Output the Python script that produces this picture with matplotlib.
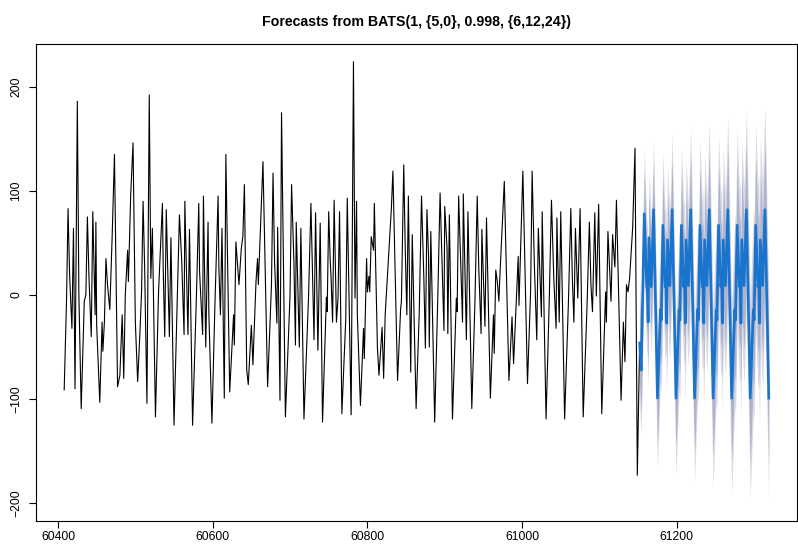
import numpy as np
import matplotlib
matplotlib.use("Agg")
import matplotlib.pyplot as plt

plt.rcParams['font.family'] = ['Liberation Sans', 'DejaVu Sans']

hist_t = [60408, 60411, 60413, 60415, 60418, 60420, 60422, 60425, 60427, 60430,
          60434, 60436, 60438, 60440, 60443, 60445, 60448, 60449, 60450, 60454,
          60457, 60458, 60460, 60462, 60464, 60467, 60470, 60473, 60477, 60480,
          60483, 60485, 60487, 60490, 60491, 60494, 60497, 60500, 60503, 60506,
          60508, 60510, 60512, 60515, 60518, 60520, 60522, 60526, 60530, 60535,
          60536, 60538, 60540, 60544, 60546, 60550, 60557, 60560, 60563, 60564,
          60568, 60570, 60574, 60579, 60582, 60583, 60587, 60588, 60591, 60594,
          60595, 60599, 60603, 60607, 60608, 60610, 60612, 60615, 60617, 60620,
          60622, 60627, 60628, 60630, 60634, 60637, 60639, 60641, 60644, 60646,
          60650, 60652, 60656, 60658, 60659, 60665, 60671, 60676, 60678, 60680,
          60683, 60684, 60687, 60689, 60694, 60700, 60702, 60705, 60707, 60708,
          60712, 60714, 60718, 60724, 60727, 60731, 60733, 60736, 60739, 60742,
          60747, 60748, 60750, 60752, 60753, 60755, 60757, 60760, 60762, 60764,
          60767, 60772, 60774, 60779, 60782, 60784, 60786, 60787, 60791, 60795,
          60796, 60799, 60800, 60802, 60803, 60805, 60808, 60809, 60813, 60815,
          60819, 60821, 60823, 60827, 60831, 60833, 60839, 60843, 60844, 60847,
          60849, 60851, 60853, 60856, 60858, 60860, 60863, 60867, 60870, 60873,
          60875, 60877, 60879, 60880, 60882, 60887, 60891, 60894, 60897, 60899,
          60900, 60903, 60904, 60906, 60910, 60915, 60916, 60918, 60921, 60923,
          60924, 60928, 60930, 60935, 60939, 60942, 60944, 60947, 60948, 60952,
          60954, 60959, 60963, 60964, 60966, 60968, 60970, 60971, 60977, 60983,
          60987, 60989, 60995, 60996, 61001, 61007, 61011, 61013, 61016, 61019,
          61021, 61025, 61026, 61031, 61035, 61038, 61041, 61044, 61045, 61048,
          61050, 61055, 61060, 61063, 61065, 61067, 61069, 61072, 61075, 61079,
          61084, 61087, 61089, 61091, 61094, 61096, 61099, 61103, 61108, 61109,
          61111, 61114, 61115, 61117, 61120, 61122, 61128, 61131, 61133, 61135,
          61137, 61139, 61143, 61146, 61149]
hist_v = [-91, -6, 83, 19, -32, 64, -90, 186, 0, -109,
          -6, 0, 75, 18, -40, 80, -19, 70, -29, -103,
          -26, -54, -26, 35, 10, -14, 56, 135, -88, -77,
          -19, -80, 0, 43, 13, 96, 146, -26, -83, -35,
          2, 90, 27, -104, 192, 16, 64, -117, 3, 88,
          26, -40, 82, -40, 55, -125, 77, 32, -38, 90,
          -38, 63, -125, 0, 88, 23, -38, 95, -50, 70,
          -16, -123, -6, 95, 26, -19, 64, -99, 135, -3,
          -93, -19, -48, 51, 10, 45, 56, 106, -72, -86,
          -29, -67, 13, 35, 10, 128, -88, 10, 117, 32,
          -27, 65, -101, 175, -117, 0, 106, 32, -48, 70,
          -50, 64, -119, 0, 88, -43, 79, -53, 69, -122,
          -2, -16, 80, 32, 18, -26, 91, -26, -3, 80,
          -114, -24, 93, -115, 224, -3, 90, -19, -106, -32,
          -61, 35, 3, 18, 3, 56, 43, 88, -51, -77,
          -31, -80, -19, 32, 83, 119, -82, -13, -6, 125,
          42, -19, 95, -74, 58, -8, -109, -18, 95, 16,
          -51, 82, 38, -50, 61, -122, -3, 98, 19, -34,
          85, 45, -37, 77, -119, -3, -16, 95, 21, -26,
          97, -43, 80, -109, -8, 95, 26, -37, 63, -30,
          74, -99, -19, -56, 24, 13, -6, 13, 109, -82,
          -21, -66, 37, -10, 119, -85, 3, 119, 26, -43,
          64, -21, 80, -119, -9, 91, 16, -32, 74, -26,
          80, -119, -5, 83, 16, -26, 64, -3, 83, -117,
          -10, 70, 10, -16, 79, -1, 87, -114, 3, -26,
          61, 10, -6, 58, 27, 91, -101, -26, -64, 10,
          3, 16, 65, 141, -173]

# point forecasts, 168 hours ahead
fc_mean = [-46, -60, -72, -35, 3, 40, 78, 55, 33, 11, 3, -26, 55, 40, 24, 8, 33, 57, 82, 46, 10, -27, -63, -99,
           -78, -57, -35, -14, -24, 21, 67, 47, 27, 8, 17, -27, 53, 38, 23, 9, 33, 57, 82, 46, 10, -27, -63, -99,
           -78, -57, -35, -14, -24, 21, 67, 47, 27, 8, 17, -27, 53, 38, 23, 9, 33, 57, 82, 46, 10, -27, -63, -99,
           -78, -57, -35, -14, -24, 21, 67, 47, 27, 8, 17, -27, 53, 38, 23, 9, 33, 57, 82, 46, 10, -27, -63, -99,
           -78, -57, -35, -14, -24, 21, 67, 47, 27, 8, 17, -27, 53, 38, 23, 9, 33, 57, 82, 46, 10, -27, -63, -99,
           -78, -57, -35, -14, -24, 21, 67, 47, 27, 8, 17, -27, 53, 38, 23, 9, 33, 57, 82, 46, 10, -27, -63, -99,
           -78, -57, -35, -14, -24, 21, 67, 47, 27, 8, 17, -27, 53, 38, 23, 9, 33, 57, 82, 46, 10, -27, -63, -99]

# forecast standard errors
fc_se = [31.0, 31.2, 31.3, 31.5, 31.6, 31.8, 32.0, 32.1, 32.3, 32.4, 32.6, 32.8, 32.9, 33.1, 33.2, 33.4, 33.6, 33.7, 33.9, 34.0, 34.2, 34.4, 34.5, 34.7,
         34.8, 35.0, 35.1, 35.3, 35.4, 35.5, 35.7, 35.8, 36.0, 36.1, 36.2, 36.4, 36.5, 36.7, 36.8, 36.9, 37.1, 37.2, 37.4, 37.5, 37.6, 37.8, 37.9, 38.0,
         38.1, 38.3, 38.4, 38.5, 38.7, 38.8, 38.9, 39.0, 39.2, 39.3, 39.4, 39.5, 39.7, 39.8, 39.9, 40.1, 40.2, 40.3, 40.5, 40.6, 40.7, 40.8, 41.0, 41.1,
         41.2, 41.3, 41.5, 41.6, 41.7, 41.8, 41.9, 42.0, 42.2, 42.3, 42.4, 42.5, 42.6, 42.7, 42.9, 43.0, 43.1, 43.2, 43.3, 43.4, 43.6, 43.7, 43.8, 43.9,
         44.0, 44.1, 44.2, 44.4, 44.5, 44.6, 44.7, 44.8, 44.9, 45.0, 45.1, 45.2, 45.4, 45.5, 45.6, 45.7, 45.8, 45.9, 46.0, 46.1, 46.3, 46.4, 46.5, 46.6,
         46.7, 46.8, 46.9, 47.0, 47.1, 47.2, 47.3, 47.4, 47.5, 47.6, 47.7, 47.9, 48.0, 48.1, 48.2, 48.3, 48.4, 48.5, 48.6, 48.7, 48.8, 48.9, 49.0, 49.1,
         49.2, 49.3, 49.4, 49.5, 49.6, 49.7, 49.8, 49.9, 50.0, 50.1, 50.2, 50.3, 50.4, 50.5, 50.6, 50.7, 50.8, 50.9, 51.0, 51.1, 51.2, 51.3, 51.4, 51.5]

fc_start = 61152
title = "Forecasts from BATS(1, {5,0}, 0.998, {6,12,24})"
x_ticks = [60400, 60600, 60800, 61000, 61200]
y_ticks = [-200, -100, 0, 100, 200]

W, H = 798, 544


def pad_range(lo, hi):
    d = (hi - lo) * 0.04
    return lo - d, hi + d


fc_t = np.arange(fc_start, fc_start + len(fc_mean))
mean = np.array(fc_mean, dtype=float)
se = np.array(fc_se)
lo80, hi80 = mean - 1.2816 * se, mean + 1.2816 * se
lo95, hi95 = mean - 1.96 * se, mean + 1.96 * se

fig = plt.figure(figsize=(W / 100, H / 100), dpi=100)
ax = fig.add_axes([36 / W, 1 - 521 / H, (797 - 36) / W, (521 - 44) / H])

# history, joined to the first forecast point
ax.plot(list(hist_t) + [fc_t[0]], list(hist_v) + [fc_mean[0]], color='black', lw=0.8)
ax.fill_between(fc_t, lo95, hi95, color='#D9DAE4', lw=0)
ax.fill_between(fc_t, lo80, hi80, color='#AEB3CD', lw=0)
ax.plot(fc_t, mean, color='#1874CD', lw=1.9)

ax.set_xlim(*pad_range(min(hist_t), fc_t[-1]))
ax.set_ylim(*pad_range(min(min(hist_v), lo95.min()), max(max(hist_v), hi95.max())))
ax.set_xticks(x_ticks)
ax.set_yticks(y_ticks)
ax.tick_params(axis='both', direction='out', length=5, width=0.8, labelsize=8.7, colors='black')
ax.tick_params(axis='x', pad=2)
ax.tick_params(axis='y', pad=5)
plt.setp(ax.get_yticklabels(), rotation=90, va='center')
for s in ax.spines.values():
    s.set_linewidth(0.8)

fig.text((36 + 797) / 2 / W, 1 - 22 / H, title, ha='center', va='center',
         fontsize=10.2, fontweight='bold')

fig.savefig("out.png", dpi=100)
